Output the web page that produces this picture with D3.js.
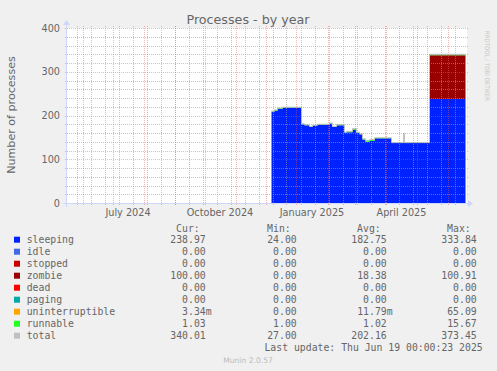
<!DOCTYPE html>
<html><head><meta charset="utf-8">
<script src="https://cdn.jsdelivr.net/npm/d3@7"></script>
<style>
html,body{margin:0;padding:0;background:#F0F0F0;}
svg{display:block;}
</style></head>
<body>
<svg id="chart" width="497" height="371"></svg>
<script>
// ---- data ----
const dates = ["2024-12-07","2024-12-10","2024-12-13","2024-12-18","2025-01-06","2025-01-09","2025-01-14","2025-01-17","2025-01-22","2025-02-03","2025-02-06","2025-02-10","2025-02-18","2025-02-20","2025-02-26","2025-03-02","2025-03-05","2025-03-08","2025-03-11","2025-03-15","2025-03-20","2025-04-06","2025-04-18","2025-04-19","2025-05-14","2025-06-19"];
const sleeping = [209,211,215,218,180,178,174,177,179,182,174,178,161,162,167,160,157,145,140,142,148,137,137,137,238,238];
const zombie   = [0,0,0,0,0,0,0,0,0,0,0,0,0,0,0,0,0,0,0,0,0,0,0,0,100,100];
const runnable = [1,2,2,1,1,1,1,1,1,1,1,1,1,2,3,2,1,2,3,3,1,1,1,1,1,1];
const total    = [210,213,217,219,181,179,175,178,180,183,175,179,162,164,170,162,158,147,143,145,149,138,159,138,340,340];

const yTicks = [0,100,200,300,400];
const xLabelMonths = ["2024-07-01","2024-10-01","2025-01-01","2025-04-01"];

const legendNames  = ["sleeping","idle","stopped","zombie","dead","paging","uninterruptible","runnable","total"];
const legendColors = ["#0022ff","#4169e1","#cc0000","#990000","#ff0000","#00aaaa","#ffa500","#22ff22","#c0c0c0"];
const curVals = ["238.97","0.00","0.00","100.00","0.00","0.00","3.34m","1.03","340.01"];
const minVals = ["24.00","0.00","0.00","0.00","0.00","0.00","0.00","1.00","27.00"];
const avgVals = ["182.75","0.00","0.00","18.38","0.00","0.00","11.79m","1.02","202.16"];
const maxVals = ["333.84","0.00","0.00","100.91","0.00","0.00","65.09","15.67","373.45"];

// ---- layout ----
const svg = d3.select("#chart");
const X0 = 67, X1 = 467, Y0 = 203, Y1 = 28;
const parse = d3.utcParse("%Y-%m-%d");
const startT = new Date(Date.UTC(2024,4,16,12));
const endT = new Date(Date.UTC(2025,5,20,12));
const x = d3.scaleUtc().domain([startT, endT]).range([X0, X1]);
const y = d3.scaleLinear().domain([0,400]).range([Y0, Y1]);

const rows = dates.map((d,i)=>({t:parse(d), s:sleeping[i], z:zombie[i], r:runnable[i], tot:total[i]}));

// canvas
svg.append("rect").attr("x",X0).attr("y",Y1).attr("width",X1-X0).attr("height",Y0-Y1).attr("fill","#ffffff");

const area = (lo,hi)=>d3.area().curve(d3.curveStepAfter).x(d=>x(d.t)).y0(d=>y(lo(d))).y1(d=>y(hi(d)));
svg.append("path").datum(rows).attr("fill","#0022ff").attr("d",area(d=>0,d=>d.s));
svg.append("path").datum(rows).attr("fill","#990000").attr("d",area(d=>d.s,d=>d.s+d.z));
svg.append("path").datum(rows).attr("fill","#22ff22").attr("d",area(d=>d.s+d.z,d=>d.s+d.z+d.r));
svg.append("path").datum(rows).attr("fill","none").attr("stroke","#c0c0c0").attr("stroke-width",1)
  .attr("d",d3.line().curve(d3.curveStepAfter).x(d=>x(d.t)).y(d=>y(d.tot))(rows));

// grid
const GRID = "rgba(160,160,160,0.6)", MGRID = "rgba(230,90,90,0.45)";
const g = svg.append("g").attr("shape-rendering","crispEdges");
d3.range(0,401,20).forEach(v=>{
  const yy = Math.round(y(v))+0.5;
  if (v===0) return;
  g.append("line").attr("x1",X0-2).attr("x2",X1+2).attr("y1",yy).attr("y2",yy)
   .attr("stroke", v%100===0?MGRID:GRID).attr("stroke-dasharray","1,1");
});
const minor = d3.utcSunday.range(new Date(Date.UTC(2024,4,26)), endT).filter((t,i)=>i%2===0);
const months = d3.utcMonth.range(startT, endT);
minor.forEach(t=>{
  const xx = Math.round(x(t))+0.5;
  g.append("line").attr("x1",xx).attr("x2",xx).attr("y1",Y1-2).attr("y2",Y0+2)
   .attr("stroke",GRID).attr("stroke-dasharray","1,1");
});
months.forEach(t=>{
  const xx = Math.round(x(t))+0.5;
  g.append("line").attr("x1",xx).attr("x2",xx).attr("y1",Y1-2).attr("y2",Y0+2)
   .attr("stroke",MGRID).attr("stroke-dasharray","1,1");
});

// axes
const AX = "#CFD6F8";
svg.append("line").attr("x1",X0-4).attr("x2",X1+3).attr("y1",Y0+0.5).attr("y2",Y0+0.5).attr("stroke",AX);
svg.append("line").attr("x1",X0-0.5).attr("x2",X0-0.5).attr("y1",Y0+4).attr("y2",Y1-4).attr("stroke",AX);
svg.append("path").attr("d",`M${X1+1},${Y0-3} L${X1+6},${Y0+0.5} L${X1+1},${Y0+4} Z`).attr("fill",AX);
svg.append("path").attr("d",`M${X0-4},${Y1-3} L${X0-0.5},${Y1-8} L${X0+3},${Y1-3} Z`).attr("fill",AX);

const FONT = "#666666";
// y tick labels
yTicks.forEach(v=>{
  svg.append("text").attr("x",60).attr("y",y(v)+3.5).attr("text-anchor","end")
    .attr("font-family","DejaVu Sans").attr("font-size","9.7px").attr("fill",FONT).text(v);
});
// x labels (centered mid-month)
const fmt = d3.utcFormat("%B %Y");
xLabelMonths.forEach(m=>{
  const t0 = parse(m), t1 = d3.utcMonth.offset(t0,1);
  svg.append("text").attr("x",(x(t0)+x(t1))/2).attr("y",216).attr("text-anchor","middle")
    .attr("font-family","DejaVu Sans").attr("font-size","9.7px").attr("fill",FONT).text(fmt(t0));
});

// title
svg.append("text").attr("x",248).attr("y",24).attr("text-anchor","middle")
  .attr("font-family","DejaVu Sans").attr("font-size","12.7px").attr("fill",FONT).text("Processes - by year");
// y axis title
svg.append("text").attr("transform","translate(14.5,115) rotate(-90)").attr("text-anchor","middle")
  .attr("font-family","DejaVu Sans").attr("font-size","11.1px").attr("fill",FONT).text("Number of processes");
// watermark
svg.append("text").attr("transform","translate(485,31) rotate(90)").attr("text-anchor","start")
  .attr("font-family","DejaVu Sans").attr("font-size","6.3px").attr("fill","#c8c8c8")
  .attr("textLength",70).attr("lengthAdjust","spacingAndGlyphs").text("RRDTOOL / TOBI OETIKER");

// legend
const MONO = "DejaVu Sans Mono", LFS = "9.8px";
const colsX = [205.7, 296.7, 386.7, 476.7];
const heads = ["Cur:","Min:","Avg:","Max:"];
heads.forEach((h,i)=>{
  svg.append("text").attr("x",colsX[i]-6).attr("y",231.5).attr("text-anchor","end")
    .attr("font-family",MONO).attr("font-size",LFS).attr("fill",FONT).text(h);
});
const cols = [curVals,minVals,avgVals,maxVals];
legendNames.forEach((n,i)=>{
  const cy = 239.7 + i*12;
  svg.append("rect").attr("x",14).attr("y",cy-3).attr("width",6).attr("height",6).attr("fill",legendColors[i]);
  svg.append("text").attr("x",26.7).attr("y",cy+3.5).attr("font-family",MONO).attr("font-size",LFS).attr("fill",FONT).text(n);
  cols.forEach((arr,j)=>{
    const v = arr[i];
    const m = /m$/.test(v);
    const num = m ? v.slice(0,-1) : v;
    svg.append("text").attr("x",colsX[j]).attr("y",cy+3.5).attr("text-anchor","end")
      .attr("font-family",MONO).attr("font-size",LFS).attr("fill",FONT).text(num);
    if (m) svg.append("text").attr("x",colsX[j]).attr("y",cy+3.5)
      .attr("font-family",MONO).attr("font-size",LFS).attr("fill",FONT).text("m");
  });
});
svg.append("text").attr("x",482.7).attr("y",350.8).attr("text-anchor","end")
  .attr("font-family",MONO).attr("font-size",LFS).attr("fill",FONT).text("Last update: Thu Jun 19 00:00:23 2025");
svg.append("text").attr("x",248).attr("y",363).attr("text-anchor","middle")
  .attr("font-family","DejaVu Sans").attr("font-size","7.6px").attr("fill","#bbbbbb").text("Munin 2.0.57");
</script>
</body></html>
